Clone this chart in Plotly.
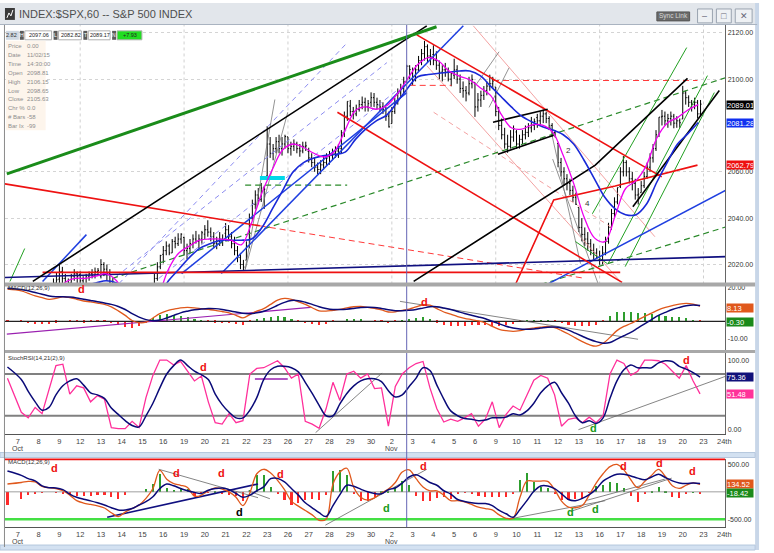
import plotly.graph_objects as go

W, H = 774, 553
X0, X1 = 5, 731  # plotting area, left/right pixel edge

# ---------------- time axis ----------------
day_labels = ["7", "8", "9", "12", "13", "14", "15", "16", "19", "20",
              "21", "22", "23", "26", "27", "28", "29", "30", "2", "3",
              "4", "5", "6", "9", "10", "11", "12", "13", "16", "17",
              "18", "19", "20", "23", "24th"]
month_marks = [(0, "Oct"), (18, "Nov")]
mondays = [3, 8, 13, 18, 23, 28, 33]
cursor_day = 18 + 5 / 7  # 11/02/15 14:30 bar

# ---------------- hourly bars (7 per day, Oct 7 .. Nov 20) ----------------
day_open = [1982.3, 1994.0, 2013.7, 2015.7, 2015.0, 2003.7, 1996.5, 2024.4, 2031.7, 2033.1,
            2033.5, 2021.9, 2058.2, 2075.1, 2068.8, 2066.5, 2088.4, 2090.0, 2080.8, 2102.6,
            2110.6, 2101.7, 2098.6, 2096.6, 2077.2, 2083.4, 2072.3, 2044.6, 2022.1, 2053.7,
            2051.0, 2083.7, 2082.8]
bar_high = [
    [1990, 1992, 1996, 1999.3, 1994, 1990, 1997],
    [1998, 2000, 2003, 2006, 2010, 2014, 2016.5],
    [2020.1, 2019, 2016, 2014, 2016, 2018, 2017],
    [2017, 2015, 2016, 2017, 2018, 2018.7, 2018.5],
    [2022.3, 2021, 2020, 2018, 2014, 2012, 2009],
    [2009.6, 2006, 2002, 1999, 1998, 1997, 1996],
    [2003, 2006, 2009, 2012, 2016, 2021, 2024.2],
    [2028, 2030, 2029, 2031, 2032, 2033.5, 2033.5],
    [2032, 2029, 2031, 2033, 2034.5, 2033, 2034.5],
    [2037, 2039.1, 2036, 2034, 2032, 2034, 2033],
    [2037.9, 2037, 2034, 2032, 2028, 2025, 2022],
    [2030, 2042, 2048, 2052, 2053, 2055.2, 2054],
    [2079.7, 2075, 2072, 2075, 2076, 2075, 2076],
    [2075.1, 2073, 2074, 2073, 2072, 2073, 2073],
    [2070.4, 2068, 2066, 2064, 2065, 2067, 2068],
    [2069, 2070, 2071, 2072, 2078, 2086, 2090.4],
    [2091, 2088, 2089, 2091, 2092.5, 2092, 2091],
    [2094.3, 2094, 2092, 2091, 2090, 2088, 2086],
    [2088, 2092, 2096, 2098, 2101, 2106.2, 2106],
    [2105, 2106, 2110, 2113, 2116.5, 2115, 2113],
    [2114.6, 2112, 2108, 2106, 2107, 2105, 2103],
    [2108.8, 2106, 2102, 2099, 2097, 2101, 2102],
    [2098.6, 2094, 2095, 2097, 2099, 2101.9, 2101],
    [2096.6, 2088, 2083, 2079, 2076, 2078, 2080],
    [2078, 2076, 2078, 2080, 2081, 2083.7, 2083],
    [2085, 2086, 2086.9, 2086, 2084, 2081, 2078],
    [2072.3, 2066, 2062, 2059, 2057, 2054, 2051],
    [2044.6, 2040, 2036, 2034, 2031, 2029, 2027],
    [2026, 2028, 2032, 2038, 2044, 2049, 2053.2],
    [2062, 2066.8, 2065, 2062, 2060, 2057, 2053],
    [2056, 2060, 2064, 2068, 2072, 2078, 2083.6],
    [2086.7, 2086, 2085, 2086, 2085, 2084, 2083],
    [2097.1, 2095, 2093, 2091, 2092, 2091, 2091],
]
bar_low = [
    [1980, 1985, 1988, 1990, 1976.4, 1980, 1988],
    [1987.5, 1990, 1996, 2000, 2002, 2006, 2009],
    [2012, 2012, 2009, 2007.6, 2010, 2013, 2012],
    [2011, 2010.6, 2012, 2013, 2014, 2014, 2015],
    [2014, 2015, 2013, 2010, 2008, 2005, 2001.8],
    [2001, 1998, 1995, 1992, 1990.7, 1991, 1992],
    [1996.5, 1999, 2002, 2006, 2009, 2013, 2018],
    [2020.5, 2024, 2024, 2025, 2027, 2028, 2029],
    [2024, 2022.3, 2025, 2027, 2029, 2027, 2029],
    [2031, 2032, 2030, 2027, 2026.6, 2028, 2028],
    [2030, 2030, 2027, 2024, 2021, 2018, 2017.2],
    [2021.9, 2027, 2039, 2044, 2046, 2047, 2044],
    [2058.2, 2066, 2065, 2068, 2068, 2067, 2070],
    [2068, 2067, 2069, 2068, 2066.5, 2068, 2069],
    [2064, 2062, 2060, 2058.8, 2059, 2061, 2063],
    [2063.1, 2065, 2066, 2066, 2068, 2075, 2082],
    [2084, 2082.6, 2084, 2086, 2087, 2086, 2086],
    [2088, 2088, 2087, 2086, 2085, 2082, 2079.1],
    [2080.8, 2085, 2089, 2092, 2094, 2098.6, 2100],
    [2097.5, 2099, 2103, 2106, 2108, 2107, 2106],
    [2106, 2104, 2100, 2099, 2101, 2099, 2096.9],
    [2100, 2098, 2094, 2092, 2090.4, 2093, 2096],
    [2083.7, 2086, 2088, 2091, 2093, 2095, 2096],
    [2084, 2078, 2074, 2070, 2068.2, 2070, 2073],
    [2069.9, 2070, 2072, 2074, 2075, 2077, 2078],
    [2079, 2080, 2081, 2081, 2078, 2075, 2074.9],
    [2062, 2058, 2054, 2052, 2050, 2047, 2045.7],
    [2034, 2030, 2028, 2026, 2024, 2022, 2022.5],
    [2019.9, 2020, 2024, 2029, 2035, 2040, 2046],
    [2053, 2058, 2058, 2055, 2052, 2048, 2045.9],
    [2051, 2053, 2057, 2060, 2064, 2069, 2075],
    [2080, 2080, 2079, 2080, 2078.8, 2079, 2079],
    [2082.8, 2089, 2088, 2086, 2087, 2083, 2084],
]
bar_close = [
    [1988, 1990, 1994, 1992, 1981, 1989, 1995.8],
    [1992, 1998, 2001, 2004, 2008, 2012, 2013.4],
    [2017, 2014, 2011, 2012, 2015, 2016, 2014.9],
    [2013, 2014, 2015, 2016, 2015, 2017, 2017.5],
    [2020, 2018, 2016, 2012, 2011, 2007, 2003.7],
    [2004, 2000, 1997, 1996, 1993, 1995, 1994.2],
    [2001, 2004, 2007, 2010, 2014, 2019, 2023.9],
    [2026, 2028, 2025, 2030, 2029, 2031, 2033.1],
    [2026, 2027, 2029, 2031, 2030, 2031, 2033.7],
    [2035, 2034, 2032, 2029, 2030, 2031, 2030.8],
    [2035, 2032, 2029, 2026, 2023, 2020, 2018.9],
    [2028, 2040, 2046, 2050, 2048, 2053, 2052.5],
    [2072, 2068, 2070, 2073, 2070, 2072, 2075.2],
    [2070, 2071, 2072, 2070, 2069, 2071, 2071.2],
    [2066, 2064, 2062, 2061, 2063, 2064, 2065.9],
    [2067, 2068, 2069, 2070, 2077, 2084, 2090.4],
    [2086, 2085, 2087, 2089, 2090, 2088, 2089.4],
    [2092, 2090, 2089, 2088, 2087, 2084, 2079.4],
    [2086, 2090, 2094, 2096, 2098.8, 2105.6, 2104.1],
    [2101, 2104, 2108, 2111, 2114, 2110, 2109.8],
    [2108, 2106, 2103, 2104, 2103, 2100, 2102.3],
    [2104, 2100, 2096, 2095, 2094, 2098, 2099.9],
    [2088, 2091, 2093, 2095, 2097, 2098, 2099.2],
    [2086, 2080, 2076, 2072, 2071, 2075, 2078.6],
    [2072, 2074, 2076, 2077, 2079, 2080, 2081.7],
    [2082, 2084, 2085, 2083, 2080, 2077, 2075.0],
    [2064, 2060, 2057, 2055, 2052, 2049, 2046.0],
    [2036, 2033, 2031, 2029, 2026, 2025, 2023.0],
    [2022, 2025, 2030, 2036, 2042, 2047, 2053.2],
    [2060, 2064, 2060, 2057, 2055, 2050, 2050.4],
    [2054, 2058, 2062, 2066, 2070, 2076, 2083.6],
    [2084, 2082, 2083, 2084, 2081, 2082, 2081.2],
    [2094, 2092, 2090, 2089, 2090, 2085, 2089.2],
]

# moving averages on the price panel, two readings per day
ma_fast = [1986, 1990, 1996, 2004, 2012, 2014, 2014, 2015, 2016, 2013,
           2005, 1998, 1998, 2006, 2018, 2025, 2028, 2030.5, 2031, 2031,
           2030.5, 2028.5, 2038, 2051, 2061, 2069.5, 2072, 2070.5, 2068, 2066.4,
           2069, 2078, 2086.5, 2088, 2087, 2088.5, 2093.5, 2100, 2106.3, 2109.3,
           2107.8, 2103.5, 2101.3, 2099.7, 2096.3, 2093, 2085, 2079, 2078.4, 2080.3,
           2080.1, 2077, 2067, 2055, 2040.5, 2031.5, 2029.9, 2041, 2052.8, 2056.2,
           2062.8, 2074.5, 2081, 2083.4, 2086.7, 2089.0]
ma_slow = [1992, 1994, 1998, 2002, 2006, 2009, 2011, 2012, 2013, 2012,
           2009, 2005, 2004, 2006, 2013, 2018, 2023, 2027, 2029, 2030.5,
           2030.5, 2030.5, 2031, 2036, 2044, 2052, 2060, 2064, 2066, 2067,
           2067.5, 2068.5, 2074, 2078.5, 2082, 2084.5, 2090, 2096, 2101, 2102,
           2102.5, 2103, 2103.5, 2103.5, 2101.5, 2097, 2092.5, 2088, 2084, 2081.5,
           2079.5, 2078, 2076, 2072, 2065, 2057, 2049, 2044, 2041.5, 2041.5,
           2046, 2055.5, 2064, 2072, 2076.5, 2081.3]

# indicators, one start reading then three readings per day
macd1_line = [19,
              18, 16.5, 15, 14, 13, 13.5, 14.5, 14, 13, 12, 11.5, 10.8,
              10, 8.5, 6.2, 3.5, 0.5, -0.8, -0.5, 2, 4.5, 6.2, 7.2, 8,
              8.2, 8, 7.5, 7, 6.5, 5.8, 5, 3.5, 2, 4, 6, 7.5,
              10, 12.5, 13.5, 13, 11.5, 10, 8, 6.2, 6, 6.5, 7, 8,
              8.6, 8.8, 8.3, 7.6, 6.8, 5.5, 5.6, 6.5, 7.2, 8.5, 9.8, 9.5,
              7.5, 5.5, 4.2, 2.8, 1.8, 1, 0.2, -1, -3, -4.7, -5.5, -5.9,
              -5.5, -4.6, -4, -3.5, -3, -3.8, -5.5, -7.5, -9.8, -12, -13.8, -14.7,
              -13, -9.5, -5.5, -3, -1.3, 0.8, 2.9, 4.8, 6.8, 8.2, 9.3, 10.2,
              10.6, 10.2, 9.0]
macd1_signal = [19.5,
                18.8, 18, 17, 16, 15, 14.5, 14.5, 14.3, 13.8, 13, 12.3, 11.6,
                10.8, 10, 8.8, 7, 4.5, 2.5, 1, 0.3, 0.8, 2, 3.5, 5,
                6, 6.8, 7.3, 7.6, 7.5, 7, 6.2, 5.5, 4.7, 4.5, 5, 6,
                7.5, 9.5, 11.2, 12.3, 12.2, 11.3, 10, 8.6, 7.6, 7, 7, 7.2,
                7.6, 8.1, 8.3, 8.2, 7.6, 6.8, 6.3, 6.2, 6.5, 7, 7.8, 8.6,
                8.6, 7.9, 7, 5.8, 4.6, 3.6, 2.6, 1.5, 0, -1.5, -2.9, -4,
                -4.6, -4.7, -4.5, -4, -3.5, -3.4, -4, -5.2, -7, -8.8, -10.6, -12,
                -12.9, -12.5, -10.5, -8.5, -6.5, -4, -1.5, 1, 3.5, 5.3, 7, 8.2,
                9.2, 9.7, 9.4]
stoch_fast = [74,
              25, 17, 32, 23, 58, 92, 94, 51, 63, 60, 40, 49,
              44, 3, 1.4, 1.4, 12, 3, 46, 78, 100, 100, 93, 98,
              84, 70, 77, 40, 10, 8, 23, 10, 13, 80, 88, 89,
              94, 99, 89, 74, 80, 12, 8, 2, 30, 68, 42, 80,
              84, 74, 80, 59, 60, 5, 62, 80, 89, 95, 98, 60,
              30, 11, 15, 12, 17, 23, 5, 15, 40, 3, 22, 34,
              28, 50, 71, 78, 74, 50, 5, 15, 17, 10, 18, 10,
              20, 80, 100, 95, 78, 84, 100, 100, 99, 94, 84, 74,
              92, 70, 51.5]
stoch_slow = [90,
              72, 55, 40, 28, 32, 50, 63, 70, 73, 64, 53, 50,
              45, 31, 22, 13, 6, 4, 20, 38, 60, 80, 92, 100,
              92, 84, 79, 72, 51, 36, 25, 17, 17, 28, 46, 72,
              86, 91, 91, 89, 83, 68, 52, 35, 20, 20, 37, 52,
              63, 70, 73, 73, 69, 56, 47, 50, 62, 74, 89, 85,
              64, 44, 27, 20, 16, 15, 13, 14, 17, 17, 18, 23,
              21, 27, 38, 53, 63, 68, 53, 38, 20, 10, 13, 9,
              17, 45, 70, 86, 93, 89, 89, 89, 96, 99, 98, 91,
              87, 82, 75.4]
macd2_line = [143,
              170, 190, 180, 100, 75, 60, 20, -60, -160, -205, -230, -255,
              -295, -380, -450, -370, -304, -240, -120, 60, 390, 230, 150, 120,
              80, -80, -60, 20, 71, 50, 0, -100, -250, -20, 330, 411,
              345, 210, 40, -170, -260, -340, -420, -518, -500, 140, 360, 430,
              80, -100, -150, -110, -20, 50, 170, 360, 400, 240, 90, 18,
              18, -60, -161, -161, -185, -230, -280, -305, -330, -420, -482, -482,
              -100, 196, 196, 196, 190, 40, -170, -280, -290, -250, -60, 160,
              330, 460, 500, 400, 220, 75, 190, 300, 410, 280, 110, 62,
              120, 165, 135]
macd2_signal = [380,
                300, 240, 200, 110, 75, 71, 40, -40, -100, -135, -165, -200,
                -240, -290, -330, -330, -304, -240, -180, -90, 60, 143, 110, 60,
                20, -10, -30, 30, 60, 71, 40, -30, -100, -60, 20, 90,
                240, 245, 180, 60, -60, -200, -290, -380, -450, -250, -50, 120,
                100, 50, 0, -30, -35, 40, 70, 160, 270, 310, 250, 170,
                120, 20, -40, -140, -175, -200, -214, -214, -250, -339, -400, -464,
                -320, -160, 10, 107, 107, 60, -36, -140, -161, -120, -50, 50,
                196, 270, 321, 321, 290, 250, 220, 270, 320, 260, 200, 161,
                150, 160, 153]

# drawn trend lines (day index, value)
green_thick = [[(-0.53, 2059.1), (20.15, 2122.6)]]
black_lines = [[(0.72, 2012.7), (19.68, 2123.0)],
               [(19.05, 2012.7), (27.79, 2062.9), (32.23, 2100.3)],
               [(29.6, 2044.9), (33.76, 2095.1)],
               [(22.87, 2081.4), (25.5, 2087.0)],
               [(23.11, 2067.6), (25.79, 2075.8)]]
red_thick = [[(19.2, 2119.1), (30.99, 2057.8)],
             [(15.38, 2085.7), (29.08, 2012.3)],
             [(-0.62, 2054.8), (11.65, 2036.7)],
             [(1.19, 2016.6), (28.99, 2016.6)],
             [(23.97, 2011.8), (25.79, 2047.9), (28.75, 2053.9), (32.71, 2062.9)]]
red_dashed = [[(11.65, 2036.7), (27.32, 2014.0)],
              [(18.86, 2097.3), (20.87, 2097.3)],
              [(22.87, 2099.4), (32.71, 2099.4)]]
salmon_thin = [[(19.68, 2105.8), (29.13, 2011.4)],
               [(21.92, 2123.0), (30.66, 2032.0)]]
salmon_dashed = [[(20.01, 2085.7), (28.75, 2035.0)]]
gray_thin = [[(10.94, 2017.8), (12.37, 2091.2)],
             [(10.94, 2017.8), (12.99, 2085.7)],
             [(25.55, 2082.2), (27.08, 2020.4)],
             [(25.74, 2065.5), (27.94, 2011.4)],
             [(22.06, 2097.7), (23.16, 2111.8)],
             [(22.68, 2087.8), (23.64, 2104.9)]]
blue_lines = [[(1.19, 2012.7), (3.3, 2032.9)],
              [(7.88, 2016.1), (18.72, 2094.2)],
              [(9.79, 2016.1), (21.44, 2123.0)],
              [(25.55, 2011.8), (34.1, 2052.2)]]
navy_lines = [[(-0.62, 2014.4), (34.1, 2023.4)]]
lavender_dashed = [[(4.87, 2011.8), (15.85, 2115.7)],
                   [(4.73, 2014.8), (17.76, 2107.1)],
                   [(6.78, 2014.0), (18.24, 2095.1)]]
green_dashed = [[(4.54, 2014.0), (34.1, 2100.7)],
                [(10.94, 2054.3), (15.85, 2054.3)],
                [(25.17, 2011.4), (34.1, 2036.3)]]
green_thin = [[(27.65, 2041.9), (32.19, 2113.6)],
              [(28.41, 2020.4), (33.19, 2101.5)],
              [(29.23, 2019.1), (33.52, 2094.2)],
              [(-0.38, 2012.7), (0.33, 2026.9)],
              [(26.84, 2029.9), (28.37, 2020.4)]]
cyan_lines = [[(11.65, 2057.3), (12.85, 2057.3)]]
wave_marks = [(26.5, 2069.4, "2"), (27.41, 2046.2, "4")]

macd1_purple = [[(-0.53, -7.6), (14.09, 8.2)]]
macd1_gray = [[(18.39, 11.8), (29.85, -10.6)]]
stoch_gray = [[(14.33, -4.3), (17.53, 81.4)], [(26.98, 0), (34.1, 77.1)]]
stoch_purple = [[(11.41, 72.9), (12.99, 72.9)]]
macd2_gray = [[(6.78, 411), (11.56, -107)], [(11.08, 18), (12.13, -125)],
              [(14.8, -607), (19.68, 411)], [(23.83, -482), (28.27, -161)],
              [(26.6, -357), (31.47, 250)], [(27.32, -161), (31.14, 232)]]
macd2_navy = [[(4.3, -464), (11.56, 143)]]

# "d" divergence marks: (axis, day, value, colour)
d_marks = [("y2", 3.06, 19.0, "#ee1111"), ("y2", 19.58, 11.2, "#ee1111"),
           ("y3", 8.93, 90, "#ee1111"), ("y3", 32.19, 100, "#ee1111"), ("y3", 27.7, 2, "#1a9a1a"),
           ("y4", 1.77, 429, "#ee1111"), ("y4", 7.64, 339, "#ee1111"), ("y4", 9.79, 339, "#ee1111"),
           ("y4", 10.65, -375, "#000000"), ("y4", 12.65, 321, "#ee1111"), ("y4", 19.53, 464, "#ee1111"),
           ("y4", 17.76, -286, "#1a9a1a"), ("y4", 26.6, -375, "#1a9a1a"), ("y4", 27.79, -321, "#1a9a1a"),
           ("y4", 29.13, 464, "#ee1111"), ("y4", 30.9, 518, "#ee1111"), ("y4", 32.47, 375, "#ee1111")]

# last-value boxes on the right scale
price_boxes = [(2089.01, "2089.01", "#000000"), (2081.28, "2081.28", "#1030f0"), (2062.79, "2062.79", "#ee1010")]
macd1_boxes = [(8.13, "8.13", "#e0581c"), (-0.30, "-0.30", "#1a8a1a")]
stoch_boxes = [(75.36, "75.36", "#10107a"), (51.48, "51.48", "#ff3399")]
macd2_boxes = [(134.52, "134.52", "#e0581c"), (-18.42, "-18.42", "#1a8a1a")]

quote_cells = [("", "2.82"), ("H", "2097.06"), ("L", "2082.82"), ("T", "2089.17"), ("N", "+7.93")]
info_labels = ["Price", "Date", "Time", "Open", "High", "Low", "Close", "Chr %", "# Bars", "Bar Ix"]
info_values = ["0.00", "11/02/15", "14:30:00", "2098.81", "2106.15", "2098.65", "2105.63", "0.0", "-58", "-99"]


def px(x):
    return x / W


def py(y):
    return 1 - y / H


fig = go.Figure()


def add_lines(groups, color, width, dash="solid", ya="y"):
    xs, ys = [], []
    for pts in groups:
        for x, y in pts:
            xs.append(x)
            ys.append(y)
        xs.append(None)
        ys.append(None)
    xa = "x" if ya == "y" else "x" + ya[1:]
    fig.add_trace(go.Scatter(x=xs, y=ys, mode="lines", xaxis=xa, yaxis=ya, hoverinfo="skip",
                             line=dict(color=color, width=width, dash=dash)))


# ---- price panel ----
add_lines(lavender_dashed, "#8c8cf0", 1, "5px,4px")
add_lines(salmon_thin, "#f08a8a", 0.8)
add_lines(salmon_dashed, "#f08a8a", 0.8, "5px,4px")
add_lines(gray_thin, "#777777", 0.8)
add_lines(green_dashed, "#2b8a2b", 1.2, "6px,4px")
add_lines(red_dashed, "#ff3a3a", 1, "6px,4px")
add_lines(green_thin, "#22a022", 1)
add_lines(blue_lines, "#1f3fe0", 1.5)
add_lines(navy_lines, "#101080", 1.6)
add_lines(red_thick, "#ee1111", 1.6)
add_lines(black_lines, "#000000", 1.6)
add_lines(green_thick, "#1a8c1a", 3)
add_lines(cyan_lines, "#00d8e8", 4)

bx, bo, bh, bl, bc = [], [], [], [], []
for d in range(len(bar_close)):
    prev = day_open[d]
    for k in range(7):
        bx.append(d + k / 7)
        bo.append(prev)
        bh.append(bar_high[d][k])
        bl.append(bar_low[d][k])
        bc.append(bar_close[d][k])
        prev = bar_close[d][k]
fig.add_trace(go.Ohlc(x=bx, open=bo, high=bh, low=bl, close=bc, xaxis="x", yaxis="y",
                      increasing_line_color="black", decreasing_line_color="black",
                      line_width=1, tickwidth=0.35, hoverinfo="skip"))

ma_x = [d + f for d in range(len(bar_close)) for f in (0.25, 0.75)]
fig.add_trace(go.Scatter(x=ma_x, y=ma_slow, mode="lines", line=dict(color="#1a2ad8", width=1.6, shape="spline"),
                         xaxis="x", yaxis="y", hoverinfo="skip"))
fig.add_trace(go.Scatter(x=ma_x, y=ma_fast, mode="lines", line=dict(color="#ee00ee", width=1.3, shape="spline"),
                         xaxis="x", yaxis="y", hoverinfo="skip"))

# ---- indicator panels ----
ind_x = [-0.5] + [d + f for d in range(len(bar_close)) for f in (1 / 6, 0.5, 5 / 6)]


def histogram(line, signal, xa, ya):
    h = [a - b for a, b in zip(line, signal)]
    cols = ["#2e9e2e" if v >= 0 else "#ff2a2a" for v in h]
    fig.add_trace(go.Bar(x=ind_x, y=h, width=0.1, marker=dict(color=cols, line=dict(width=0)),
                         xaxis=xa, yaxis=ya, hoverinfo="skip"))


histogram(macd1_line, macd1_signal, "x2", "y2")
add_lines([[(-0.62, 0), (34.05, 0)]], "#222222", 1.2, ya="y2")
add_lines(macd1_purple, "#9a20b0", 1.2, ya="y2")
add_lines(macd1_gray, "#666666", 0.8, ya="y2")
fig.add_trace(go.Scatter(x=ind_x, y=macd1_line, mode="lines", line=dict(color="#e0581c", width=1.3, shape="spline"),
                         xaxis="x2", yaxis="y2", hoverinfo="skip"))
fig.add_trace(go.Scatter(x=ind_x, y=macd1_signal, mode="lines", line=dict(color="#0a0a78", width=1.5, shape="spline"),
                         xaxis="x2", yaxis="y2", hoverinfo="skip"))

add_lines([[(-0.62, 80), (34.05, 80)], [(-0.62, 20), (34.05, 20)]], "#808080", 2, ya="y3")
add_lines(stoch_gray, "#666666", 0.8, ya="y3")
add_lines(stoch_purple, "#9a20b0", 1.5, ya="y3")
fig.add_trace(go.Scatter(x=ind_x, y=stoch_fast, mode="lines", line=dict(color="#ff2f9a", width=1.3),
                         xaxis="x3", yaxis="y3", hoverinfo="skip"))
fig.add_trace(go.Scatter(x=ind_x, y=stoch_slow, mode="lines", line=dict(color="#0a0a78", width=1.5, shape="spline"),
                         xaxis="x3", yaxis="y3", hoverinfo="skip"))

add_lines([[(-0.62, 600), (34.05, 600)]], "#ee1111", 2.5, ya="y4")
add_lines([[(-0.62, -500), (34.05, -500)]], "#44e044", 2.5, ya="y4")
histogram(macd2_line, macd2_signal, "x4", "y4")
add_lines([[(-0.62, 0), (34.05, 0)]], "#888888", 0.8, ya="y4")
add_lines(macd2_gray, "#666666", 0.8, ya="y4")
add_lines(macd2_navy, "#101080", 1.6, ya="y4")
fig.add_trace(go.Scatter(x=ind_x, y=macd2_line, mode="lines", line=dict(color="#e0581c", width=1.3, shape="spline"),
                         xaxis="x4", yaxis="y4", hoverinfo="skip"))
fig.add_trace(go.Scatter(x=ind_x, y=macd2_signal, mode="lines", line=dict(color="#0a0a78", width=1.5, shape="spline"),
                         xaxis="x4", yaxis="y4", hoverinfo="skip"))

# ---- axes ----
xbase = dict(range=[-0.62, 34.05], domain=[px(X0), px(X1)], showgrid=False, zeroline=False,
             fixedrange=True, ticks="", tickfont=dict(size=7.5, color="#444"))
xlab = dict(tickmode="array", tickvals=list(range(len(day_labels))), ticktext=day_labels,
            showline=True, linecolor="#555", linewidth=1)
ybase = dict(side="right", zeroline=False, fixedrange=True, ticks="", showline=True,
             linecolor="#666", linewidth=1, tickfont=dict(size=7, color="#333"))
fig.update_layout(
    width=W, height=H, margin=dict(l=0, r=0, t=0, b=0),
    paper_bgcolor="white", plot_bgcolor="white", showlegend=False, bargap=0,
    font=dict(family="Liberation Sans, Arial, sans-serif", size=8, color="#333"),
    xaxis=dict(xbase, anchor="y", showticklabels=False, rangeslider=dict(visible=False)),
    xaxis2=dict(xbase, anchor="y2", matches="x", showticklabels=False),
    xaxis3=dict(xbase, **xlab, anchor="y3", matches="x"),
    xaxis4=dict(xbase, **xlab, anchor="y4", matches="x"),
    yaxis=dict(ybase, domain=[py(283), py(22)], range=[2011.4, 2123.4],
               tickvals=[2020, 2040, 2060, 2100, 2120],
               ticktext=["2020.00", "2040.00", "2060.00", "2100.00", "2120.00"],
               showgrid=True, gridcolor="#d4d4d4", griddash="dot"),
    yaxis2=dict(ybase, domain=[py(350), py(285)], range=[-17.6, 20.6],
                tickvals=[-10, 20], ticktext=["-10.00", "20.00"], showgrid=False),
    yaxis3=dict(ybase, domain=[py(433), py(352)], range=[-5.7, 110],
                tickvals=[0, 100], ticktext=["0.00", "100.00"], showgrid=False),
    yaxis4=dict(ybase, domain=[py(527), py(458)], range=[-643, 607],
                tickvals=[-500, 500], ticktext=["-500.00", "500.00"], showgrid=False),
)

# weekly dotted grid on the price panel
for m in mondays:
    fig.add_shape(type="line", xref="x", yref="y domain", x0=m, x1=m, y0=0, y1=1,
                  line=dict(color="#d0d0d0", width=1, dash="dot"), layer="below")

# cursor line through all panels
fig.add_shape(type="line", xref="x", yref="paper", x0=cursor_day, x1=cursor_day, y0=py(527), y1=py(22),
              line=dict(color="#6464b4", width=1))


def box(x0, y0, x1, y1, fill, line=None, layer="above"):
    fig.add_shape(type="rect", xref="paper", yref="paper", x0=px(x0), x1=px(x1), y0=py(y1), y1=py(y0),
                  fillcolor=fill, line=dict(color=line or fill, width=1 if line else 0), layer=layer)


def label(x, y, text, size=8, color="#333", anchor="left", **kw):
    fig.add_annotation(xref="paper", yref="paper", x=px(x), y=py(y), text=text, showarrow=False,
                       xanchor=anchor, yanchor="middle", borderpad=0, font=dict(size=size, color=color), **kw)


# window chrome
box(0, 0, 763, 21, "#e2e6eb", layer="below")
box(0, 21, 763, 22, "#a9b3c0")
box(5, 5, 15, 17, "#3a3a3a")
fig.add_shape(type="path", xref="paper", yref="paper",
              path=f"M {px(7)} {py(15)} L {px(9)} {py(10)} L {px(11)} {py(13)} L {px(13)} {py(7)}",
              line=dict(color="white", width=1))
label(18, 11, "INDEX:$SPX,60 -- S&P 500 INDEX", size=11, color="#4e4e4e")
box(662, 9, 695, 18, "#6b6b6b", "#555555")
label(678.5, 13.5, "Sync Link", size=6.5, color="#d8d8d8", anchor="center")
for (b0, b1), glyph in zip([(703, 718), (722, 737), (741, 758)], ["–", "□", "✕"]):
    box(b0, 6, b1, 20, "#eef1f4", "#9aa4b0")
    label((b0 + b1) / 2, 13, glyph, size=9, color="#667", anchor="center")
box(761, 0, 765, 550, "#c8d6e8", layer="below")
box(4, 22, 5, 547, "#8a8a8a")
box(5, 281, 761, 285, "#a8a8a8")
box(5, 349, 761, 352, "#a8a8a8")
box(0, 452, 761, 457, "#d3e1f1", "#b5c7dd", layer="below")
box(0, 545, 761, 550, "#d3e1f1", "#b5c7dd", layer="below")

# quote strip
cells = [(6, 19), (20, 24, 25, 52), (54, 58, 59, 82), (84, 88, 89, 111), (113, 117, 118, 143)]
box(6, 28, 19, 37, "#cfd8e2")
label(18.5, 32.5, quote_cells[0][1], size=5.5, color="#333", anchor="right")
for (k0, k1, v0, v1), (key, val) in zip(cells[1:], quote_cells[1:]):
    box(k0, 28, k1, 37, "#5a5a5a")
    label((k0 + k1) / 2, 32.5, key, size=5, color="white", anchor="center")
    fill = "#22dd22" if key == "N" else "white"
    box(v0, 28, v1, 37, fill, "#b0b0b0")
    label((v0 + v1) / 2 + 1, 32.5, val, size=5.5, color="#222", anchor="center")

# data window
box(6, 38, 46, 128, "#fdf5ec")
for i, (lab, val) in enumerate(zip(info_labels, info_values)):
    label(7, 43 + 9 * i, lab, size=6, color="#8e8e8e")
    label(26, 43 + 9 * i, val, size=6, color="#8e8e8e")

# panel titles
label(7, 287, "MACD(12,26,9)", size=6, color="#333")
label(7, 357, "StochRSI(14,21(2),9)", size=6, color="#333")
label(7, 462, "MACD(12,26,9)", size=6, color="#333")

# month names under the day labels
for xa, ypix in (("x3", 448), ("x4", 541)):
    for d, name in month_marks:
        fig.add_annotation(xref=xa, yref="paper", x=d, y=py(ypix), text=name, showarrow=False,
                           xanchor="center", yanchor="middle", borderpad=0, font=dict(size=7, color="#444"))

# wave counts and divergence marks
for d, v, t in wave_marks:
    fig.add_annotation(xref="x", yref="y", x=d, y=v, text=t, showarrow=False, borderpad=0,
                       font=dict(size=8, color="#333"))
for ya, d, v, c in d_marks:
    fig.add_annotation(xref="x" + ya[1:], yref=ya, x=d, y=v, text="<b>d</b>", showarrow=False,
                       borderpad=0, font=dict(size=11, color=c))

# last-value boxes
for ya, boxes in (("y", price_boxes), ("y2", macd1_boxes), ("y3", stoch_boxes), ("y4", macd2_boxes)):
    for v, t, c in boxes:
        fig.add_annotation(xref="paper", yref=ya, x=px(732), y=v, text=t, showarrow=False,
                           xanchor="left", yanchor="middle", bgcolor=c, width=26, height=8,
                           borderpad=0, align="left", font=dict(size=7.5, color="white"))

fig.write_html("out.html", config={"displayModeBar": False},
               post_script="document.body.style.margin='0';document.body.style.overflow='hidden';")
